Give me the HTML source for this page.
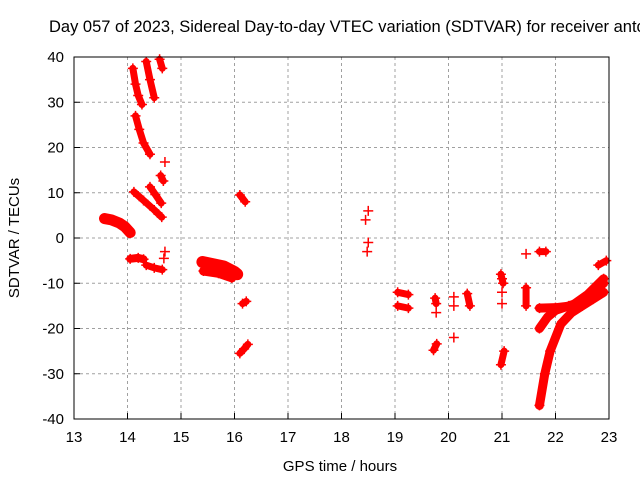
<!DOCTYPE html>
<html><head><meta charset="utf-8"><style>
body{margin:0;background:#fff;overflow:hidden;}
svg{display:block;font-family:"Liberation Sans",sans-serif;}
</style></head><body>
<svg id="chart" width="640" height="480" viewBox="0 0 640 480">
<text x="49" y="32" font-size="16.5" fill="#000">Day 057 of 2023, Sidereal Day-to-day VTEC variation (SDTVAR) for receiver antc</text>
<g id="grid"></g>
<g id="ticks"></g>
<g id="marks"></g>
<rect x="74" y="57" width="535" height="362" fill="none" stroke="#000" stroke-width="1"/>
<text x="340" y="471" font-size="15" text-anchor="middle">GPS time / hours</text>
<text x="19" y="238" font-size="15" text-anchor="middle" transform="rotate(-90 19 238)">SDTVAR / TECUs</text>
</svg>
<script>
const xTicks=[13,14,15,16,17,18,19,20,21,22,23];
const yTicks=[-40,-30,-20,-10,0,10,20,30,40];
const seg1=[[13.57,4.3],[13.7,4],[13.85,3.3],[13.95,2.5],[14.05,1.2]];
const seg2=[[14.1,37.5],[14.15,34],[14.2,31.5],[14.27,29.5]];
const seg3=[[14.35,39],[14.42,35],[14.5,31]];
const seg4=[[14.6,39.5],[14.65,37.5]];
const seg5=[[14.15,27],[14.22,24],[14.3,21],[14.42,18.5]];
const seg6=[[14.62,13.8],[14.67,12.6]];
const seg7=[[14.12,10.2],[14.3,8.3],[14.5,6.2],[14.64,4.6]];
const seg8=[[14.42,11.3],[14.52,9.6],[14.63,7.7]];
const seg9=[[14.05,-4.6],[14.2,-4.4],[14.3,-4.7]];
const seg10=[[14.35,-6],[14.5,-6.6],[14.65,-7]];
const seg11=[[15.4,-5.3],[15.6,-5.8],[15.8,-6.3],[16.0,-7.5],[16.05,-8]];
const seg12=[[15.42,-7.3],[15.7,-7.8],[15.95,-8.8]];
const seg13=[[16.1,9.5],[16.2,8]];
const seg14=[[16.15,-14.5],[16.22,-14]];
const seg15=[[16.1,-25.5],[16.18,-24.5],[16.25,-23.5]];
const seg16=[[19.05,-12],[19.25,-12.5]];
const seg17=[[19.05,-15],[19.25,-15.5]];
const seg18=[[19.75,-13.3],[19.77,-14.5]];
const seg19=[[19.72,-24.8],[19.78,-23.4]];
const seg20=[[20.35,-12.3],[20.4,-15]];
const seg21=[[20.98,-8],[21.02,-10]];
const seg22=[[20.98,-28],[21.04,-25]];
const seg23=[[21.45,-11],[21.45,-15]];
const seg24=[[21.7,-3],[21.82,-3]];
const seg25=[[21.7,-15.5],[22.0,-15.4],[22.3,-15],[22.6,-12.5],[22.9,-9]];
const seg26=[[21.7,-37],[21.8,-30],[21.9,-25],[22.1,-19],[22.3,-16.5],[22.5,-15],[22.7,-13.5],[22.9,-12]];
const seg27=[[21.7,-20],[21.85,-17.5],[22.0,-16],[22.25,-15],[22.5,-14],[22.7,-12],[22.9,-10]];
const seg28=[[22.8,-6],[22.95,-5]];
const singles=[[14.7,16.8],[14.7,-3],[14.68,-4.5],[18.5,6],[18.45,4],[18.5,-1],[18.48,-3],[19.77,-16.5],[20.1,-13],[20.1,-15],[20.1,-22],[21.0,-12],[21.0,-14.5],[21.45,-3.5],[21.0,-9]];
const segments=[seg1,seg2,seg3,seg4,seg5,seg6,seg7,seg8,seg9,seg10,seg11,seg12,seg13,seg14,seg15,seg16,seg17,seg18,seg19,seg20,seg21,seg22,seg23,seg24,seg25,seg26,seg27,seg28];
const segWidths=[11,7,7,7,7,7,7,7,8,7,12,9,7,7,7,7,7,7,7,7,7,7,7,7,9,9,9,7];

const L=74,R=609,T=57,B=419,X0=13,X1=23,Y0=-40,Y1=40;
function xs(h){return L+(h-X0)/(X1-X0)*(R-L);}
function ys(v){return B-(v-Y0)/(Y1-Y0)*(B-T);}
const NS='http://www.w3.org/2000/svg';
function mk(t,a,p){const e=document.createElementNS(NS,t);for(const k in a)e.setAttribute(k,a[k]);p.appendChild(e);return e;}
const grid=document.getElementById('grid'),ticks=document.getElementById('ticks'),marks=document.getElementById('marks');
xTicks.forEach(t=>{const x=xs(t);
 if(t>X0&&t<X1){const g=mk('line',{x1:x,y1:T,x2:x,y2:B,stroke:'#a0a0a0','stroke-dasharray':'3,3'},grid);
 
 }
 const l=mk('line',{x1:x,y1:B,x2:x,y2:B-6,stroke:'#000'},ticks);
 
 
 const tx=mk('text',{x:x,y:B+23,'font-size':15,'text-anchor':'middle'},ticks);tx.textContent=t;
 
 
});
yTicks.forEach(t=>{const y=ys(t);
 if(t>Y0&&t<Y1){const g=mk('line',{x1:L,y1:y,x2:R,y2:y,stroke:'#a0a0a0','stroke-dasharray':'3,3'},grid);
 
 }
 const l=mk('line',{x1:L,y1:y,x2:L+6,y2:y,stroke:'#000'},ticks);
 
 
 const tx=mk('text',{x:L-10,y:y+5,'font-size':15,'text-anchor':'end'},ticks);tx.textContent=t;
 
 
});
function plus(h,v){const x=xs(h),y=ys(v);
 const p=mk('path',{d:`M${x-5},${y}H${x+5}M${x},${y-5}V${y+5}`,stroke:'#f00','stroke-width':1.5},marks);
 
 }
segments.forEach((s,i)=>{
 const pl=mk('polyline',{points:s.map(p=>xs(p[0])+','+ys(p[1])).join(' '),fill:'none',stroke:'#f00','stroke-width':segWidths[i],'stroke-linecap':'round','stroke-linejoin':'round'},marks);
 
 
 s.forEach(p=>plus(p[0],p[1]));
});
singles.forEach(p=>plus(p[0],p[1]));
</script>
</body></html>
